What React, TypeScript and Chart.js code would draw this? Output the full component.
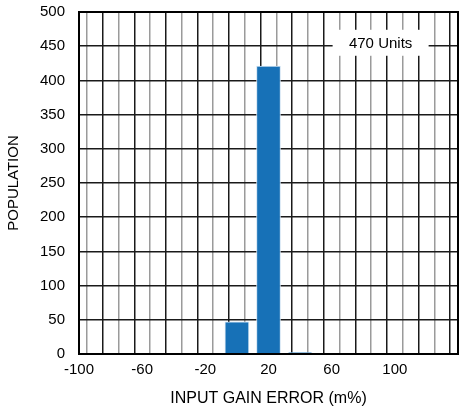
import React, { useEffect, useRef } from "react";
import { Chart, registerables } from "chart.js";

Chart.register(...registerables);

// Histogram bins (centre of each bin, in m%) and unit counts
const binCenters = [0, 20, 40];
const population = [47, 421, 2];

// Axis ranges and labelled ticks
const xMin = -100;
const xMax = 140;
const xLabelled = [-100, -60, -20, 20, 60, 100];
const yMin = 0;
const yMax = 500;
const yStep = 50;

const binWidth = 20;
const barFill = 0.76;

const legendText = "470 Units";
const FONT = "'Liberation Sans', Arial, Helvetica, sans-serif";

const frameAndLegend = {
  id: "frameAndLegend",
  beforeDatasetsDraw(chart: any) {
    const { ctx, scales } = chart;
    // white label box sitting over the grid in the upper right
    const cx = scales.x.getPixelForValue(91);
    const cy = scales.y.getPixelForValue(455);
    const w = 96;
    const h = 26;
    ctx.save();
    ctx.fillStyle = "#ffffff";
    ctx.fillRect(cx - w / 2, cy - h / 2, w, h);
    ctx.fillStyle = "#000000";
    ctx.font = `15px ${FONT}`;
    ctx.textAlign = "center";
    ctx.textBaseline = "middle";
    ctx.fillText(legendText, cx, cy + 1);
    ctx.restore();
  },
  afterDatasetsDraw(chart: any) {
    const { ctx, chartArea } = chart;
    ctx.save();
    ctx.strokeStyle = "#000000";
    ctx.lineWidth = 2;
    ctx.strokeRect(
      chartArea.left,
      chartArea.top,
      chartArea.right - chartArea.left,
      chartArea.bottom - chartArea.top
    );
    ctx.restore();
  },
};

export default function App() {
  const canvasRef = useRef<HTMLCanvasElement | null>(null);

  useEffect(() => {
    if (!canvasRef.current) return;
    const chart = new Chart(canvasRef.current, {
      type: "bar",
      data: {
        datasets: [
          {
            data: binCenters.map((x, i) => ({ x, y: population[i] })),
            backgroundColor: "#1771b7",
            borderColor: "#cfe2f2",
            borderWidth: 1,
            // bar spans a fixed share of one histogram bin
            barThickness: (c: any) => {
              const s = c.chart.scales.x;
              if (!s) return 24;
              return Math.abs(s.getPixelForValue(binWidth) - s.getPixelForValue(0)) * barFill;
            },
          },
        ],
      },
      options: {
        responsive: false,
        animation: false,
        layout: { padding: { top: 12, right: 3, left: 0, bottom: 0 } },
        plugins: {
          legend: { display: false },
          tooltip: { enabled: false },
        },
        scales: {
          x: {
            type: "linear",
            min: xMin,
            max: xMax,
            offset: false,
            afterFit(scale: any) {
              scale.height = 58;
              scale.paddingRight = 0;
            },
            ticks: {
              stepSize: 10,
              autoSkip: false,
              maxRotation: 0,
              padding: 7,
              color: "#000000",
              font: { family: FONT, size: 15 },
              callback: (v: any) => (xLabelled.includes(Number(v)) ? String(v) : ""),
            },
            grid: {
              drawTicks: false,
              lineWidth: 1.5,
              color: (c: any) => {
                const v = c.tick ? c.tick.value : 0;
                return ((v - xMin) / 10) % 2 === 0 ? "#1a1a1a" : "#9a9a9a";
              },
            },
            border: { display: false },
            title: {
              display: true,
              text: "INPUT GAIN ERROR (m%)",
              color: "#000000",
              font: { family: FONT, size: 16 },
              padding: { top: 0, bottom: 4 },
            },
          },
          y: {
            min: yMin,
            max: yMax,
            afterFit(scale: any) {
              scale.width = 79;
              scale.paddingTop = 0;
              scale.paddingBottom = 0;
            },
            ticks: {
              stepSize: yStep,
              padding: 14,
              color: "#000000",
              font: { family: FONT, size: 15 },
            },
            grid: {
              drawTicks: false,
              lineWidth: 1.5,
              color: "#1a1a1a",
            },
            border: { display: false },
            title: {
              display: true,
              text: "POPULATION",
              color: "#000000",
              font: { family: FONT, size: 15 },
              padding: { top: 5, bottom: 0 },
            },
          },
        },
      },
      plugins: [frameAndLegend],
    });
    return () => chart.destroy();
  }, []);

  return (
    <div style={{ position: "fixed", left: 0, top: 0, width: 461, height: 412, background: "#ffffff" }}>
      <canvas ref={canvasRef} width={461} height={412} />
    </div>
  );
}
